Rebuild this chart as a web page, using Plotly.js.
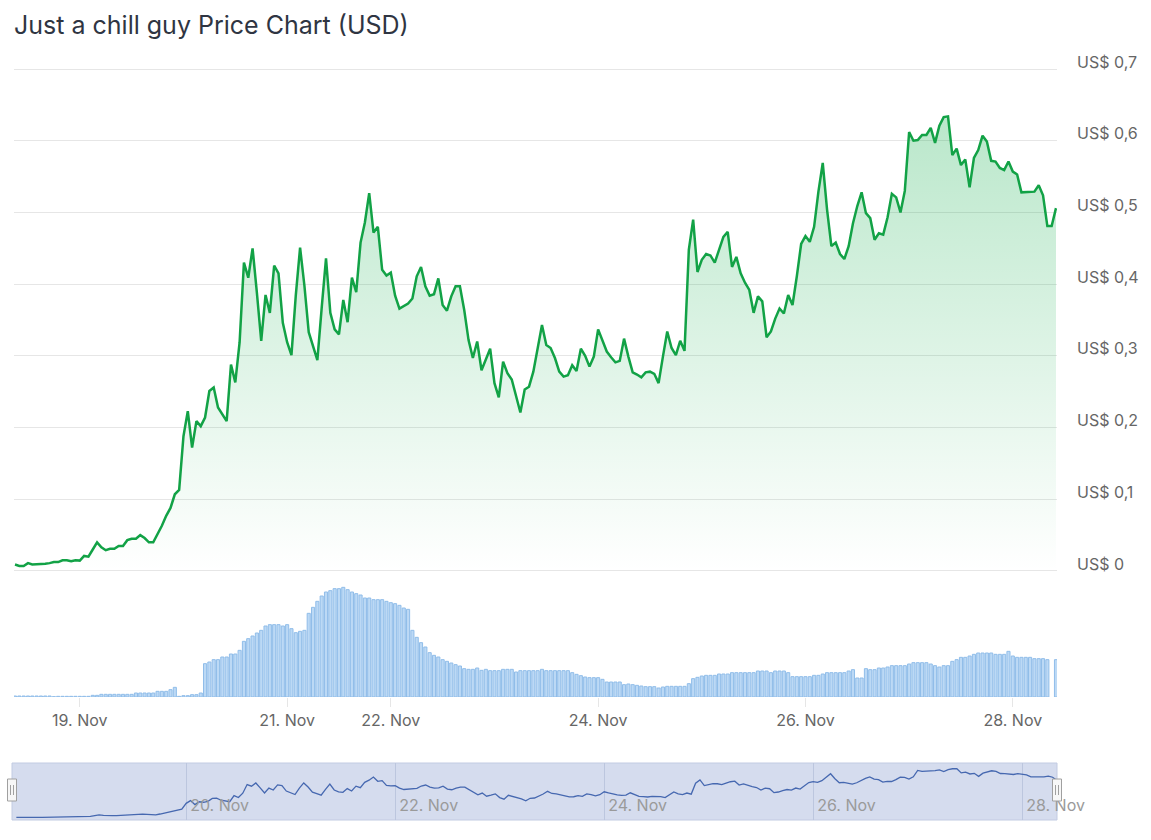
<!DOCTYPE html>
<html>
<head>
<meta charset="utf-8">
<script src="https://cdn.plot.ly/plotly-3.0.1.min.js"></script>
<style>
  html, body { margin: 0; padding: 0; background: #fff; }
  #chart { width: 1151px; height: 840px; }
</style>
</head>
<body>
<div id="chart"></div>
<script>
// hourly series, first point 18 Nov 2024 09:00 UTC
const startHour = Date.UTC(2024, 10, 18, 9);

const price = [
  0.009, 0.007, 0.007, 0.011, 0.009, 0.009, 0.009, 0.010, 0.011, 0.0125,
  0.0125, 0.015, 0.015, 0.0135, 0.015, 0.0145, 0.021, 0.020, 0.030, 0.040,
  0.033, 0.029, 0.031, 0.031, 0.035, 0.035, 0.043, 0.045, 0.045, 0.050,
  0.046, 0.040, 0.040, 0.051, 0.063, 0.077, 0.088, 0.107, 0.113,
  0.188, 0.223, 0.172, 0.209, 0.202, 0.214, 0.251, 0.256, 0.228, 0.219,
  0.209, 0.288, 0.263, 0.319, 0.430, 0.409, 0.450, 0.388, 0.321, 0.385,
  0.360, 0.426, 0.415, 0.346, 0.319, 0.301, 0.384, 0.451, 0.398, 0.333,
  0.314, 0.294, 0.367, 0.436, 0.360, 0.337, 0.330, 0.378, 0.347, 0.409,
  0.389, 0.458, 0.486, 0.527, 0.472, 0.480, 0.420, 0.412, 0.416, 0.384, 0.366,
  0.370, 0.373, 0.380, 0.411, 0.424, 0.397, 0.384, 0.386, 0.408, 0.371,
  0.363, 0.383, 0.397, 0.397, 0.364, 0.322, 0.297, 0.320, 0.280, 0.294,
  0.310, 0.262, 0.242, 0.292, 0.276, 0.267, 0.245, 0.221, 0.253, 0.257,
  0.278, 0.308, 0.343, 0.315, 0.311, 0.297, 0.278, 0.271, 0.273, 0.287,
  0.279, 0.310, 0.300, 0.285, 0.299, 0.337, 0.322, 0.306, 0.298, 0.291,
  0.293, 0.324, 0.299, 0.277, 0.274, 0.270, 0.277, 0.278, 0.275, 0.262,
  0.299, 0.334, 0.311, 0.301, 0.321, 0.307, 0.448, 0.490, 0.417, 0.434,
  0.442, 0.440, 0.430, 0.448, 0.466, 0.473,
  0.424, 0.438, 0.415, 0.402, 0.392, 0.360, 0.383, 0.376, 0.326, 0.334,
  0.352, 0.366, 0.359, 0.385, 0.371, 0.411, 0.456, 0.467, 0.459, 0.480,
  0.529, 0.569, 0.504, 0.453, 0.458, 0.442, 0.435, 0.453, 0.485, 0.509,
  0.528, 0.499, 0.492, 0.462, 0.471, 0.469, 0.493, 0.526, 0.521, 0.500,
  0.530, 0.612, 0.600, 0.601, 0.608, 0.608, 0.618, 0.597, 0.621, 0.633,
  0.634, 0.580, 0.589, 0.566, 0.574, 0.535, 0.576, 0.587, 0.607, 0.599,
  0.572, 0.571, 0.562, 0.559, 0.571, 0.557, 0.553, 0.528, 0.528, 0.528,
  0.529, 0.538, 0.524, 0.481, 0.481, 0.506
];

// volume, relative units (no scale shown on the chart)
const volume = [
  3, 3, 3, 3, 3, 3, 3, 3, 3, 1,
  2, 2, 2, 2, 2, 2, 2, 2, 5, 5,
  8, 8, 8, 8, 8, 8, 8, 8, 12, 12,
  12, 12, 12, 17, 17, 17, 22, 29, 2, 4,
  4, 7, 7, 12, 100, 105, 112, 112, 120, 120,
  129, 129, 140, 167, 175, 183, 192, 200, 213, 217,
  217, 217, 213, 217, 205, 193, 197, 200, 251, 269,
  287, 303, 315, 319, 325, 325, 329, 322, 315, 310,
  306, 297, 297, 292, 292, 292, 287, 283, 280, 275,
  267, 263, 200, 179, 163, 150, 133, 125, 120, 112,
  107, 102, 97, 93, 85, 83, 83, 87, 80, 83,
  79, 79, 79, 83, 83, 83, 75, 79, 79, 79,
  79, 79, 83, 79, 79, 79, 79, 79, 79, 73,
  68, 64, 60, 58, 58, 58, 53, 45, 45, 45,
  45, 37, 39, 37, 35, 33, 31, 31, 31, 27,
  30, 32, 32, 32, 32, 32, 40, 55, 59, 63,
  65, 65, 65, 69, 69, 69, 73, 73, 73, 73,
  73, 73, 78, 78, 78, 73, 78, 78, 78, 73,
  61, 61, 61, 61, 61, 65, 65, 69, 73, 73,
  73, 73, 73, 78, 82, 57, 57, 85, 82, 82,
  87, 87, 90, 94, 94, 94, 94, 99, 103, 103,
  103, 103, 99, 94, 90, 94, 94, 107, 112, 119,
  119, 123, 128, 132, 132, 132, 132, 128, 128, 128,
  137, 123, 119, 119, 119, 119, 115, 115, 115, 112,
  null, 112
];

const hours = price.map((_, i) => startHour + i * 3600 * 1000);

const mainTickVals = ['2024-11-19', '2024-11-21', '2024-11-22', '2024-11-24', '2024-11-26', '2024-11-28'];
const mainTickText = ['19. Nov', '21. Nov', '22. Nov', '24. Nov', '26. Nov', '28. Nov'];
const navTickVals = ['2024-11-20', '2024-11-22', '2024-11-24', '2024-11-26', '2024-11-28'];
const navTickText = ['20. Nov', '22. Nov', '24. Nov', '26. Nov', '28. Nov'];
const priceTickVals = [0, 0.1, 0.2, 0.3, 0.4, 0.5, 0.6, 0.7];
const priceTickText = ['US$ 0', 'US$ 0,1', 'US$ 0,2', 'US$ 0,3', 'US$ 0,4', 'US$ 0,5', 'US$ 0,6', 'US$ 0,7'];

const W = 1151, H = 840;
const px = v => v / W;
const py = v => 1 - v / H;

// price axis: 0 at y=571px, 0.1 per 71.7px; top padded so the 0,7 grid line is drawn
const priceTop = 0.71;
const pricePxPerUnit = 717.1;

const priceTrace = {
  x: hours, y: price,
  type: 'scatter', mode: 'lines',
  xaxis: 'x', yaxis: 'y',
  line: { color: '#12a246', width: 2.5 },
  fill: 'tozeroy',
  fillgradient: {
    type: 'vertical', start: 0, stop: 0.7,
    colorscale: [[0, 'rgba(0,168,62,0.0)'], [1, 'rgba(0,168,62,0.30)']]
  },
  hoverinfo: 'skip'
};

const volumeTrace = {
  x: hours, y: volume,
  type: 'bar',
  xaxis: 'x', yaxis: 'y2',
  marker: { color: '#bcd9f5', line: { color: '#90bde9', width: 1 } },
  hoverinfo: 'skip'
};

const navTrace = {
  x: hours, y: price,
  type: 'scatter', mode: 'lines',
  xaxis: 'x2', yaxis: 'y3',
  line: { color: '#4668b0', width: 1.3 },
  hoverinfo: 'skip'
};

const handle = (cx) => [
  { type: 'rect', xref: 'paper', yref: 'paper',
    x0: px(cx - 4.5), x1: px(cx + 4.5), y0: py(801), y1: py(779),
    fillcolor: '#f7f7f7', line: { color: '#a0a0a0', width: 1 }, layer: 'above' },
  { type: 'line', xref: 'paper', yref: 'paper',
    x0: px(cx - 1.5), x1: px(cx - 1.5), y0: py(795), y1: py(785),
    line: { color: '#a0a0a0', width: 1 }, layer: 'above' },
  { type: 'line', xref: 'paper', yref: 'paper',
    x0: px(cx + 1.5), x1: px(cx + 1.5), y0: py(795), y1: py(785),
    line: { color: '#a0a0a0', width: 1 }, layer: 'above' }
];

const layout = {
  width: W, height: H,
  margin: { l: 0, r: 0, t: 0, b: 0 },
  paper_bgcolor: '#ffffff', plot_bgcolor: '#ffffff',
  showlegend: false,
  font: { family: 'Inter, "Noto Sans", sans-serif', color: '#666666' },
  title: {
    text: 'Just a chill guy Price Chart (USD)',
    x: px(14), xanchor: 'left', xref: 'paper',
    y: py(25), yanchor: 'middle', yref: 'paper',
    font: { family: 'Inter, sans-serif', size: 25, color: '#2f3542' }
  },
  bargap: 0.28,
  xaxis: {
    type: 'date',
    domain: [px(14), px(1057)],
    anchor: 'y2',
    range: ['2024-11-18 08:46', '2024-11-28 10:14'],
    tickvals: mainTickVals, ticktext: mainTickText,
    ticks: 'outside', ticklen: 9, tickcolor: '#e6e6e6', tickwidth: 1,
    tickfont: { size: 16, color: '#666666' },
    showgrid: false, showline: false, zeroline: false,
    fixedrange: true
  },
  yaxis: {
    domain: [py(571), py(571 - priceTop * pricePxPerUnit)],
    anchor: 'x',
    side: 'right',
    range: [0, priceTop],
    tickvals: priceTickVals, ticktext: priceTickText,
    tickfont: { size: 16, color: '#666666' },
    ticklabelshift: -7,
    ticklabelstandoff: 19,
    showgrid: true, gridcolor: '#e6e6e6', gridwidth: 1,
    zeroline: true, zerolinecolor: '#e6e6e6', zerolinewidth: 1,
    showline: false, ticks: '',
    fixedrange: true
  },
  yaxis2: {
    domain: [py(697), py(580)],
    anchor: 'x',
    range: [0, 351],
    showticklabels: false, showgrid: false, zeroline: false, showline: false,
    fixedrange: true
  },
  xaxis2: {
    type: 'date',
    domain: [px(12), px(1057)],
    anchor: 'y3',
    range: ['2024-11-18 08:00', '2024-11-28 08:00'],
    tickvals: navTickVals, ticktext: navTickText,
    ticklabelposition: 'inside right',
    ticklabeloverflow: 'allow',
    ticklabelshift: 4,
    tickfont: { size: 16, color: '#9a9a9a' },
    ticks: '',
    showgrid: true, gridcolor: '#bcc6de', gridwidth: 1,
    showline: false, zeroline: false,
    fixedrange: true
  },
  yaxis3: {
    domain: [py(820), py(763)],
    anchor: 'x2',
    range: [-0.026, 0.707],
    showticklabels: false, showgrid: false, zeroline: false, showline: false,
    fixedrange: true
  },
  shapes: [
    { type: 'rect', xref: 'x2 domain', yref: 'y3 domain',
      x0: 0, x1: 1, y0: 0, y1: 1,
      fillcolor: '#d5dcee', line: { color: '#c2cbe2', width: 1 }, layer: 'below' },
    ...handle(12),
    ...handle(1057)
  ]
};

Plotly.newPlot('chart', [priceTrace, volumeTrace, navTrace], layout, { displayModeBar: false, staticPlot: true });
</script>
</body>
</html>
